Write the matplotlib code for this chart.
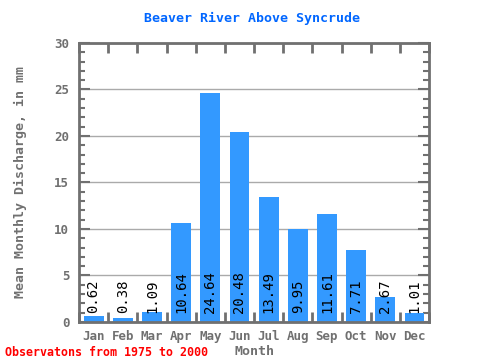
import matplotlib
matplotlib.use("Agg")
import matplotlib.pyplot as plt
import numpy as np
from matplotlib.ticker import MultipleLocator

months = ['Jan', 'Feb', 'Mar', 'Apr', 'May', 'Jun', 'Jul', 'Aug', 'Sep', 'Oct', 'Nov', 'Dec']
values = [0.62, 0.38, 1.09, 10.64, 24.64, 20.48, 13.49, 9.95, 11.61, 7.71, 2.67, 1.01]

plt.rcParams['font.family'] = 'DejaVu Sans Mono'
gray = '#707070'

fig = plt.figure(figsize=(4.8, 3.6), dpi=100)
ax = fig.add_axes([0.1646, 0.1056, 0.7292, 0.775])

x = np.arange(len(months))
ax.bar(x, values, width=0.68, color='#3399ff', zorder=2)
for xi, v in zip(x, values):
    ax.text(xi, 1.0, '%.2f' % v, rotation=90, ha='center', va='bottom',
            fontsize=10, color='black', zorder=3)

ax.set_xlim(-0.5, 11.5)
ax.set_ylim(0, 30)
ax.yaxis.set_major_locator(MultipleLocator(5))
ax.yaxis.set_minor_locator(MultipleLocator(1))
ax.set_xticks(x)
ax.set_xticklabels(months)
ax.set_xticks(np.arange(-0.5, 12, 1), minor=True)
ax.grid(axis='y', which='major', color='#aaaaaa', linewidth=1, zorder=0)

ax.tick_params(axis='x', which='major', length=0, pad=6, labelsize=9, labelcolor=gray)
ax.tick_params(axis='x', which='minor', direction='in', length=7, width=2, color=gray,
               top=True, bottom=True)
ax.tick_params(axis='y', which='major', direction='in', length=8, width=1.5, color=gray,
               left=True, right=True, labelsize=9, labelcolor=gray, pad=7)
ax.tick_params(axis='y', which='minor', direction='in', length=4, width=1.5, color=gray,
               left=True, right=True)
for lab in ax.get_xticklabels() + ax.get_yticklabels():
    lab.set_fontweight('bold')
for s in ax.spines.values():
    s.set_color(gray)
    s.set_linewidth(2)

fig.text(0.526, 0.95, 'Beaver River Above Syncrude', ha='center', va='center',
         fontsize=9.5, fontweight='bold', color='#0066ff')
ax.set_xlabel('Month', fontsize=9.5, fontweight='bold', color=gray, labelpad=1)
ax.set_ylabel('Mean Monthly Discharge, in mm', fontsize=9.5, fontweight='bold', color=gray, labelpad=20)
fig.text(0.01, 0.022, 'Observatons from 1975 to 2000', ha='left', va='center',
         fontsize=8.4, fontweight='bold', color='red')

fig.savefig('out.png', dpi=100)
